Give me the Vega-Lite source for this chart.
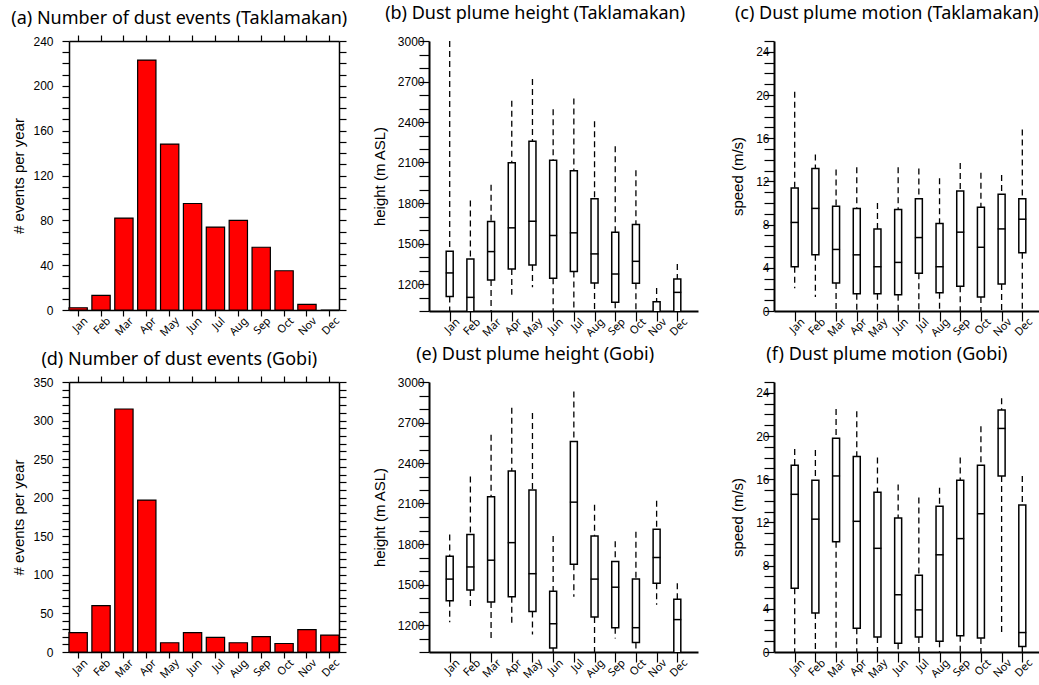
{
  "$schema": "https://vega.github.io/schema/vega-lite/v6.json",
  "background": "white",
  "padding": {"left": 11, "top": 5, "right": 0, "bottom": 0},
  "spacing": 7,
  "datasets": {
    "takCount": [
      {"month": "Jan", "count": 2}, {"month": "Feb", "count": 13}, {"month": "Mar", "count": 82},
      {"month": "Apr", "count": 223}, {"month": "May", "count": 148}, {"month": "Jun", "count": 95},
      {"month": "Jul", "count": 74}, {"month": "Aug", "count": 80}, {"month": "Sep", "count": 56},
      {"month": "Oct", "count": 35}, {"month": "Nov", "count": 5}, {"month": "Dec", "count": 0}
    ],
    "gobiCount": [
      {"month": "Jan", "count": 25}, {"month": "Feb", "count": 60}, {"month": "Mar", "count": 315},
      {"month": "Apr", "count": 197}, {"month": "May", "count": 12}, {"month": "Jun", "count": 25},
      {"month": "Jul", "count": 19}, {"month": "Aug", "count": 12}, {"month": "Sep", "count": 20},
      {"month": "Oct", "count": 11}, {"month": "Nov", "count": 29}, {"month": "Dec", "count": 22}
    ],
    "takH": [
      {"month": "Jan", "lo": 990, "q1": 1108, "med": 1282, "q3": 1443, "hi": 3000},
      {"month": "Feb", "lo": 990, "q1": 990, "med": 1101, "q3": 1386, "hi": 1819},
      {"month": "Mar", "lo": 990, "q1": 1230, "med": 1440, "q3": 1663, "hi": 1935},
      {"month": "Apr", "lo": 1120, "q1": 1311, "med": 1616, "q3": 2099, "hi": 2557},
      {"month": "May", "lo": 1175, "q1": 1341, "med": 1665, "q3": 2257, "hi": 2718},
      {"month": "Jun", "lo": 990, "q1": 1242, "med": 1559, "q3": 2116, "hi": 2495},
      {"month": "Jul", "lo": 990, "q1": 1292, "med": 1579, "q3": 2039, "hi": 2574},
      {"month": "Aug", "lo": 990, "q1": 1207, "med": 1423, "q3": 1831, "hi": 2406},
      {"month": "Sep", "lo": 990, "q1": 1064, "med": 1274, "q3": 1584, "hi": 2220},
      {"month": "Oct", "lo": 990, "q1": 1205, "med": 1368, "q3": 1641, "hi": 2042},
      {"month": "Nov", "lo": 990, "q1": 990, "med": 990, "q3": 1069, "hi": 1170},
      {"month": "Dec", "lo": 990, "q1": 990, "med": 1138, "q3": 1237, "hi": 1349}
    ],
    "gobiH": [
      {"month": "Jan", "lo": 1220, "q1": 1380, "med": 1540, "q3": 1710, "hi": 1870},
      {"month": "Feb", "lo": 1330, "q1": 1460, "med": 1630, "q3": 1870, "hi": 2300},
      {"month": "Mar", "lo": 1100, "q1": 1370, "med": 1680, "q3": 2150, "hi": 2610},
      {"month": "Apr", "lo": 1190, "q1": 1410, "med": 1810, "q3": 2340, "hi": 2810},
      {"month": "May", "lo": 1130, "q1": 1300, "med": 1580, "q3": 2200, "hi": 2770},
      {"month": "Jun", "lo": 990, "q1": 1030, "med": 1210, "q3": 1450, "hi": 1860},
      {"month": "Jul", "lo": 1410, "q1": 1650, "med": 2110, "q3": 2560, "hi": 2930},
      {"month": "Aug", "lo": 990, "q1": 1260, "med": 1540, "q3": 1860, "hi": 2090},
      {"month": "Sep", "lo": 1100, "q1": 1180, "med": 1480, "q3": 1670, "hi": 1820},
      {"month": "Oct", "lo": 990, "q1": 1070, "med": 1180, "q3": 1540, "hi": 1890},
      {"month": "Nov", "lo": 1350, "q1": 1510, "med": 1700, "q3": 1910, "hi": 2120},
      {"month": "Dec", "lo": 990, "q1": 990, "med": 1240, "q3": 1390, "hi": 1510}
    ],
    "takS": [
      {"month": "Jan", "lo": 2.1, "q1": 4.1, "med": 8.2, "q3": 11.4, "hi": 20.3},
      {"month": "Feb", "lo": 1.3, "q1": 5.2, "med": 9.5, "q3": 13.2, "hi": 14.5},
      {"month": "Mar", "lo": 0, "q1": 2.6, "med": 5.7, "q3": 9.7, "hi": 13.1},
      {"month": "Apr", "lo": 0, "q1": 1.6, "med": 5.2, "q3": 9.5, "hi": 13.3},
      {"month": "May", "lo": 0, "q1": 1.6, "med": 4.1, "q3": 7.6, "hi": 10.0},
      {"month": "Jun", "lo": 0, "q1": 1.5, "med": 4.5, "q3": 9.4, "hi": 13.3},
      {"month": "Jul", "lo": 0, "q1": 3.5, "med": 6.8, "q3": 10.4, "hi": 13.2},
      {"month": "Aug", "lo": 0, "q1": 1.7, "med": 4.1, "q3": 8.1, "hi": 12.3},
      {"month": "Sep", "lo": 0, "q1": 2.3, "med": 7.3, "q3": 11.1, "hi": 13.7},
      {"month": "Oct", "lo": 0, "q1": 1.3, "med": 5.9, "q3": 9.6, "hi": 12.8},
      {"month": "Nov", "lo": 0, "q1": 2.5, "med": 7.6, "q3": 10.8, "hi": 12.6},
      {"month": "Dec", "lo": 0, "q1": 5.4, "med": 8.5, "q3": 10.4, "hi": 16.8}
    ],
    "gobiS": [
      {"month": "Jan", "lo": 0, "q1": 5.9, "med": 14.6, "q3": 17.3, "hi": 18.8},
      {"month": "Feb", "lo": 0, "q1": 3.6, "med": 12.3, "q3": 15.9, "hi": 18.7},
      {"month": "Mar", "lo": 0, "q1": 10.2, "med": 16.3, "q3": 19.8, "hi": 22.5},
      {"month": "Apr", "lo": 0, "q1": 2.2, "med": 12.1, "q3": 18.1, "hi": 22.3},
      {"month": "May", "lo": 0, "q1": 1.4, "med": 9.6, "q3": 14.8, "hi": 18.0},
      {"month": "Jun", "lo": 0, "q1": 0.8, "med": 5.3, "q3": 12.4, "hi": 15.5},
      {"month": "Jul", "lo": 0, "q1": 1.4, "med": 3.9, "q3": 7.1, "hi": 14.3},
      {"month": "Aug", "lo": 0, "q1": 1.0, "med": 9.0, "q3": 13.5, "hi": 15.2},
      {"month": "Sep", "lo": 0, "q1": 1.5, "med": 10.5, "q3": 15.9, "hi": 18.0},
      {"month": "Oct", "lo": 0, "q1": 1.3, "med": 12.8, "q3": 17.3, "hi": 20.9},
      {"month": "Nov", "lo": 1.7, "q1": 16.3, "med": 20.7, "q3": 22.4, "hi": 23.5},
      {"month": "Dec", "lo": 0, "q1": 0.5, "med": 1.8, "q3": 13.6, "hi": 16.3}
    ]
  },
  "config": {
    "view": {"stroke": null},
    "axis": {
      "labelFont": "Liberation Sans", "labelFontSize": 12, "labelColor": "black", "labelOverlap": false, "labelFlush": false,
      "titleFont": "Liberation Sans", "titleFontSize": 15, "titleFontWeight": "normal", "titleColor": "black",
      "domainColor": "black", "tickColor": "black", "grid": false, "tickWidth": 1.2
    },
    "title": {"font": "Noto Sans", "fontSize": 18, "fontWeight": "normal", "color": "black", "anchor": "middle", "frame": "bounds", "offset": 12}
  },
  "vconcat": [
    {
      "hconcat": [
        {
          "width": 270, "height": 269,
          "title": {"text": "(a) Number of dust events (Taklamakan)", "offset": 6},
          "data": {"name": "takCount"},
          "layer": [
            {
              "mark": {"type": "bar", "fill": "#ff0000", "stroke": "black", "strokeWidth": 1.2},
              "encoding": {
                "x": {"field": "month", "type": "nominal", "sort": null, "scale": {"paddingInner": 0.2, "paddingOuter": 0},
                      "axis": {"orient": "bottom", "title": null, "labelAngle": -45, "labelAlign": "right", "labelBaseline": "middle", "labelFont": "Noto Sans", "labelFontSize": 11, "tickSize": 6, "labelPadding": 3, "labelOffset": 8, "domainWidth": 1.5}},
                "y": {"field": "count", "type": "quantitative", "scale": {"domain": [0, 240], "nice": false},
                      "axis": {"orient": "left", "title": "# events per year", "values": [0,10,20,30,40,50,60,70,80,90,100,110,120,130,140,150,160,170,180,190,200,210,220,230,240],
                               "labelExpr": "datum.value % 40 === 0 ? datum.label : ''", "tickSize": 7, "labelPadding": 9, "titlePadding": 6, "domainWidth": 1.5,
                               "encode": {"ticks": {"update": {"x2": {"signal": "datum.value % 40 === 0 ? -7 : -4"}}}}}}
              }
            },
            {
              "mark": {"type": "bar", "opacity": 0},
              "encoding": {
                "x": {"field": "month", "type": "nominal", "sort": null,
                      "axis": {"orient": "top", "title": null, "labels": false, "tickSize": 6, "domainWidth": 1.5}},
                "y": {"field": "count", "type": "quantitative",
                      "axis": {"orient": "right", "title": null, "labels": false, "values": [0,10,20,30,40,50,60,70,80,90,100,110,120,130,140,150,160,170,180,190,200,210,220,230,240], "tickSize": 7, "domainWidth": 1.5,
                               "encode": {"ticks": {"update": {"x2": {"signal": "datum.value % 40 === 0 ? 7 : 4"}}}}}}
              }
            }
          ],
          "resolve": {"axis": {"x": "independent", "y": "independent"}}
        },
        {
          "hconcat": [
            {
              "width": 269, "height": 270,
              "title": {"text": "(b) Dust plume height (Taklamakan)"},
              "data": {"name": "takH"},
              "layer": [
                {
                  "mark": {"type": "rule", "strokeDash": [6, 4], "strokeWidth": 1.3, "clip": true},
                  "encoding": {
                    "x": {"field": "month", "type": "ordinal", "sort": null, "scale": {"type": "point", "padding": 1},
                          "axis": {"title": null, "labelAngle": -45, "labelAlign": "right", "labelBaseline": "middle", "labelFont": "Noto Sans", "labelFontSize": 11, "tickSize": 10, "labelPadding": -1, "labelOffset": 8, "domainWidth": 2,
                                   "encode": {"ticks": {"update": {"y2": {"value": -10}}}}}},
                    "y": {"field": "hi", "type": "quantitative", "scale": {"domain": [1000, 3000], "nice": false, "zero": false},
                          "axis": {"title": "height (m ASL)", "values": [1000,1100,1200,1300,1400,1500,1600,1700,1800,1900,2000,2100,2200,2300,2400,2500,2600,2700,2800,2900,3000], "format": "d",
                                   "labelExpr": "datum.value % 300 === 0 ? datum.label : ''", "tickSize": 10, "labelPadding": -5, "titlePadding": 10, "domainWidth": 2,
                                   "encode": {"ticks": {"update": {"x2": {"signal": "datum.value % 300 === 0 ? 10 : 5"}}}}}},
                    "y2": {"field": "q3"}
                  }
                },
                {
                  "mark": {"type": "rule", "strokeDash": [6, 4], "strokeWidth": 1.3, "clip": true},
                  "encoding": {"x": {"field": "month", "type": "ordinal", "sort": null, "axis": null}, "y": {"field": "q1", "type": "quantitative", "axis": null}, "y2": {"field": "lo"}}
                },
                {
                  "mark": {"type": "bar", "width": 7, "fill": "white", "stroke": "black", "strokeWidth": 1.5, "clip": true},
                  "encoding": {"x": {"field": "month", "type": "ordinal", "sort": null, "axis": null}, "y": {"field": "q1", "type": "quantitative", "axis": null}, "y2": {"field": "q3"}}
                },
                {
                  "mark": {"type": "tick", "orient": "horizontal", "size": 8, "thickness": 1.5, "color": "black", "opacity": 1, "clip": true},
                  "encoding": {"x": {"field": "month", "type": "ordinal", "sort": null, "axis": null}, "y": {"field": "med", "type": "quantitative", "axis": null}}
                }
              ],
              "resolve": {"axis": {"x": "independent", "y": "independent"}}
            },
            {
              "width": 269, "height": 270,
              "title": {"text": "(c) Dust plume motion (Taklamakan)"},
              "data": {"name": "takS"},
              "layer": [
                {
                  "mark": {"type": "rule", "strokeDash": [6, 4], "strokeWidth": 1.3, "clip": true},
                  "encoding": {
                    "x": {"field": "month", "type": "ordinal", "sort": null, "scale": {"type": "point", "padding": 1},
                          "axis": {"title": null, "labelAngle": -45, "labelAlign": "right", "labelBaseline": "middle", "labelFont": "Noto Sans", "labelFontSize": 11, "tickSize": 10, "labelPadding": -1, "labelOffset": 8, "domainWidth": 2,
                                   "encode": {"ticks": {"update": {"y2": {"value": -10}}}}}},
                    "y": {"field": "hi", "type": "quantitative", "scale": {"domain": [0, 25], "nice": false},
                          "axis": {"title": "speed (m/s)", "values": [0,1,2,3,4,5,6,7,8,9,10,11,12,13,14,15,16,17,18,19,20,21,22,23,24,25],
                                   "labelExpr": "datum.value % 4 === 0 ? datum.label : ''", "tickSize": 10, "labelPadding": -5, "titlePadding": 10, "domainWidth": 2,
                                   "encode": {"ticks": {"update": {"x2": {"signal": "datum.value % 4 === 0 ? 10 : 5"}}}}}},
                    "y2": {"field": "q3"}
                  }
                },
                {
                  "mark": {"type": "rule", "strokeDash": [6, 4], "strokeWidth": 1.3, "clip": true},
                  "encoding": {"x": {"field": "month", "type": "ordinal", "sort": null, "axis": null}, "y": {"field": "q1", "type": "quantitative", "axis": null}, "y2": {"field": "lo"}}
                },
                {
                  "mark": {"type": "bar", "width": 7, "fill": "white", "stroke": "black", "strokeWidth": 1.5, "clip": true},
                  "encoding": {"x": {"field": "month", "type": "ordinal", "sort": null, "axis": null}, "y": {"field": "q1", "type": "quantitative", "axis": null}, "y2": {"field": "q3"}}
                },
                {
                  "mark": {"type": "tick", "orient": "horizontal", "size": 8, "thickness": 1.5, "color": "black", "opacity": 1, "clip": true},
                  "encoding": {"x": {"field": "month", "type": "ordinal", "sort": null, "axis": null}, "y": {"field": "med", "type": "quantitative", "axis": null}}
                }
              ],
              "resolve": {"axis": {"x": "independent", "y": "independent"}}
            }
          ],
          "spacing": 76,
          "bounds": "flush"
        }
      ],
      "spacing": 90,
      "bounds": "flush"
    },
    {
      "hconcat": [
        {
          "width": 270, "height": 270,
          "title": {"text": "(d) Number of dust events (Gobi)", "offset": 6},
          "data": {"name": "gobiCount"},
          "layer": [
            {
              "mark": {"type": "bar", "fill": "#ff0000", "stroke": "black", "strokeWidth": 1.2},
              "encoding": {
                "x": {"field": "month", "type": "nominal", "sort": null, "scale": {"paddingInner": 0.2, "paddingOuter": 0},
                      "axis": {"orient": "bottom", "title": null, "labelAngle": -45, "labelAlign": "right", "labelBaseline": "middle", "labelFont": "Noto Sans", "labelFontSize": 11, "tickSize": 6, "labelPadding": 3, "labelOffset": 8, "domainWidth": 1.5}},
                "y": {"field": "count", "type": "quantitative", "scale": {"domain": [0, 350], "nice": false},
                      "axis": {"orient": "left", "title": "# events per year", "values": [0,10,20,30,40,50,60,70,80,90,100,110,120,130,140,150,160,170,180,190,200,210,220,230,240,250,260,270,280,290,300,310,320,330,340,350],
                               "labelExpr": "datum.value % 50 === 0 ? datum.label : ''", "tickSize": 7, "labelPadding": 9, "titlePadding": 6, "domainWidth": 1.5,
                               "encode": {"ticks": {"update": {"x2": {"signal": "datum.value % 50 === 0 ? -7 : -4"}}}}}}
              }
            },
            {
              "mark": {"type": "bar", "opacity": 0},
              "encoding": {
                "x": {"field": "month", "type": "nominal", "sort": null,
                      "axis": {"orient": "top", "title": null, "labels": false, "tickSize": 6, "domainWidth": 1.5}},
                "y": {"field": "count", "type": "quantitative",
                      "axis": {"orient": "right", "title": null, "labels": false, "values": [0,10,20,30,40,50,60,70,80,90,100,110,120,130,140,150,160,170,180,190,200,210,220,230,240,250,260,270,280,290,300,310,320,330,340,350], "tickSize": 7, "domainWidth": 1.5,
                               "encode": {"ticks": {"update": {"x2": {"signal": "datum.value % 50 === 0 ? 7 : 4"}}}}}}
              }
            }
          ],
          "resolve": {"axis": {"x": "independent", "y": "independent"}}
        },
        {
          "hconcat": [
            {
              "width": 269, "height": 270,
              "title": {"text": "(e) Dust plume height (Gobi)"},
              "data": {"name": "gobiH"},
              "layer": [
                {
                  "mark": {"type": "rule", "strokeDash": [6, 4], "strokeWidth": 1.3, "clip": true},
                  "encoding": {
                    "x": {"field": "month", "type": "ordinal", "sort": null, "scale": {"type": "point", "padding": 1},
                          "axis": {"title": null, "labelAngle": -45, "labelAlign": "right", "labelBaseline": "middle", "labelFont": "Noto Sans", "labelFontSize": 11, "tickSize": 10, "labelPadding": -1, "labelOffset": 8, "domainWidth": 2,
                                   "encode": {"ticks": {"update": {"y2": {"value": -10}}}}}},
                    "y": {"field": "hi", "type": "quantitative", "scale": {"domain": [1000, 3000], "nice": false, "zero": false},
                          "axis": {"title": "height (m ASL)", "values": [1000,1100,1200,1300,1400,1500,1600,1700,1800,1900,2000,2100,2200,2300,2400,2500,2600,2700,2800,2900,3000], "format": "d",
                                   "labelExpr": "datum.value % 300 === 0 ? datum.label : ''", "tickSize": 10, "labelPadding": -5, "titlePadding": 10, "domainWidth": 2,
                                   "encode": {"ticks": {"update": {"x2": {"signal": "datum.value % 300 === 0 ? 10 : 5"}}}}}},
                    "y2": {"field": "q3"}
                  }
                },
                {
                  "mark": {"type": "rule", "strokeDash": [6, 4], "strokeWidth": 1.3, "clip": true},
                  "encoding": {"x": {"field": "month", "type": "ordinal", "sort": null, "axis": null}, "y": {"field": "q1", "type": "quantitative", "axis": null}, "y2": {"field": "lo"}}
                },
                {
                  "mark": {"type": "bar", "width": 7, "fill": "white", "stroke": "black", "strokeWidth": 1.5, "clip": true},
                  "encoding": {"x": {"field": "month", "type": "ordinal", "sort": null, "axis": null}, "y": {"field": "q1", "type": "quantitative", "axis": null}, "y2": {"field": "q3"}}
                },
                {
                  "mark": {"type": "tick", "orient": "horizontal", "size": 8, "thickness": 1.5, "color": "black", "opacity": 1, "clip": true},
                  "encoding": {"x": {"field": "month", "type": "ordinal", "sort": null, "axis": null}, "y": {"field": "med", "type": "quantitative", "axis": null}}
                }
              ],
              "resolve": {"axis": {"x": "independent", "y": "independent"}}
            },
            {
              "width": 269, "height": 270,
              "title": {"text": "(f) Dust plume motion (Gobi)"},
              "data": {"name": "gobiS"},
              "layer": [
                {
                  "mark": {"type": "rule", "strokeDash": [6, 4], "strokeWidth": 1.3, "clip": true},
                  "encoding": {
                    "x": {"field": "month", "type": "ordinal", "sort": null, "scale": {"type": "point", "padding": 1},
                          "axis": {"title": null, "labelAngle": -45, "labelAlign": "right", "labelBaseline": "middle", "labelFont": "Noto Sans", "labelFontSize": 11, "tickSize": 10, "labelPadding": -1, "labelOffset": 8, "domainWidth": 2,
                                   "encode": {"ticks": {"update": {"y2": {"value": -10}}}}}},
                    "y": {"field": "hi", "type": "quantitative", "scale": {"domain": [0, 25], "nice": false},
                          "axis": {"title": "speed (m/s)", "values": [0,1,2,3,4,5,6,7,8,9,10,11,12,13,14,15,16,17,18,19,20,21,22,23,24,25],
                                   "labelExpr": "datum.value % 4 === 0 ? datum.label : ''", "tickSize": 10, "labelPadding": -5, "titlePadding": 10, "domainWidth": 2,
                                   "encode": {"ticks": {"update": {"x2": {"signal": "datum.value % 4 === 0 ? 10 : 5"}}}}}},
                    "y2": {"field": "q3"}
                  }
                },
                {
                  "mark": {"type": "rule", "strokeDash": [6, 4], "strokeWidth": 1.3, "clip": true},
                  "encoding": {"x": {"field": "month", "type": "ordinal", "sort": null, "axis": null}, "y": {"field": "q1", "type": "quantitative", "axis": null}, "y2": {"field": "lo"}}
                },
                {
                  "mark": {"type": "bar", "width": 7, "fill": "white", "stroke": "black", "strokeWidth": 1.5, "clip": true},
                  "encoding": {"x": {"field": "month", "type": "ordinal", "sort": null, "axis": null}, "y": {"field": "q1", "type": "quantitative", "axis": null}, "y2": {"field": "q3"}}
                },
                {
                  "mark": {"type": "tick", "orient": "horizontal", "size": 8, "thickness": 1.5, "color": "black", "opacity": 1, "clip": true},
                  "encoding": {"x": {"field": "month", "type": "ordinal", "sort": null, "axis": null}, "y": {"field": "med", "type": "quantitative", "axis": null}}
                }
              ],
              "resolve": {"axis": {"x": "independent", "y": "independent"}}
            }
          ],
          "spacing": 76,
          "bounds": "flush"
        }
      ],
      "spacing": 90,
      "bounds": "flush"
    }
  ]
}
